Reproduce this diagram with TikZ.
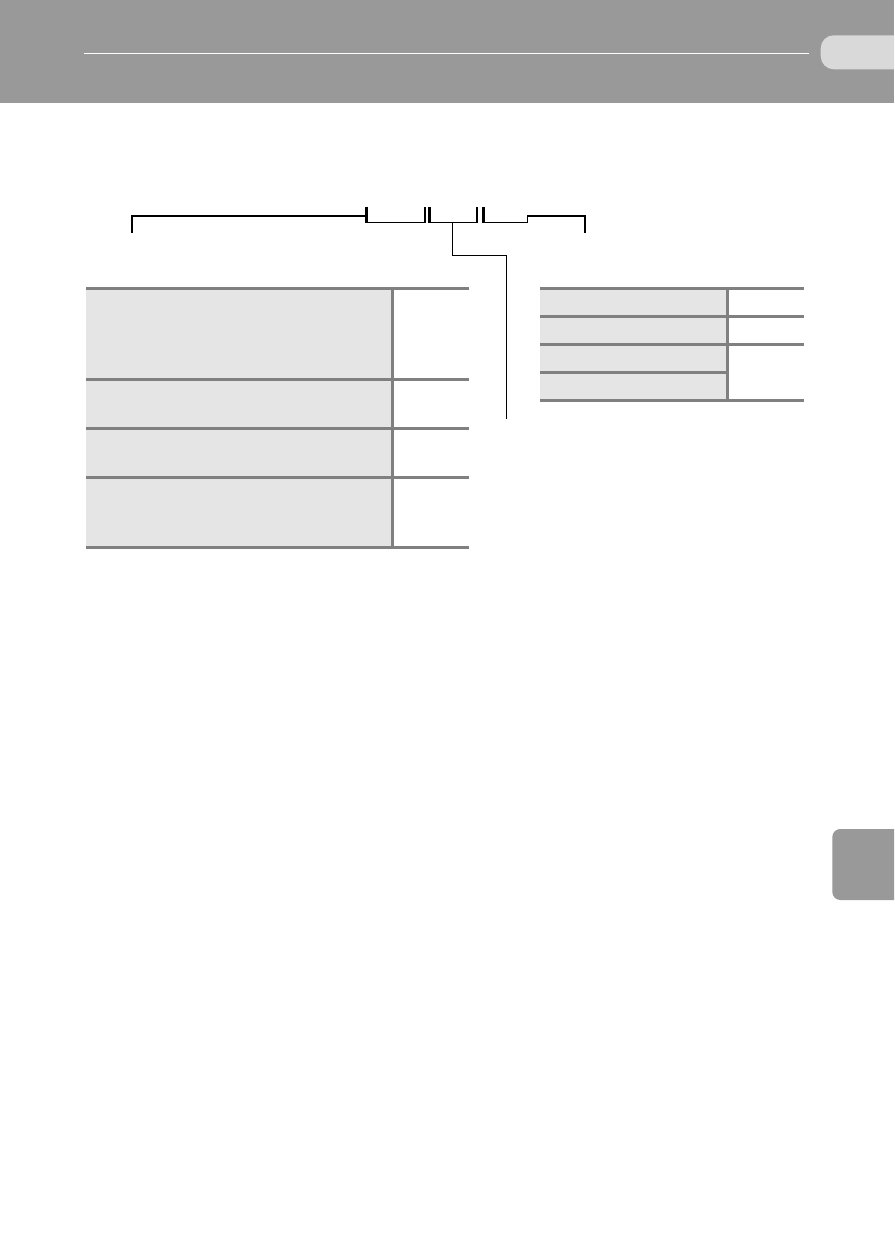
\documentclass[tikz,border=0pt]{standalone}
\usetikzlibrary{calc}
\definecolor{hdrgray}{HTML}{999999}
\definecolor{tabgray}{HTML}{D9D9D9}
\definecolor{rulegray}{HTML}{808080}
\definecolor{cellgray}{HTML}{E5E5E5}
\tikzset{
  thinrule/.style={line width=1.3pt, black},
  tickrule/.style={line width=2.6pt, black},
  tablerule/.style={line width=3pt, rulegray},
  tablebottom/.style={line width=3.5pt, rulegray},
  cellfill/.style={fill=cellgray, draw=none},
}
\begin{document}
\begin{tikzpicture}[x=1pt,y=-1pt]
\clip (0,0) rectangle (894,1260);
\fill[white] (0,0) rectangle (894,1260);
% header
\fill[hdrgray] (0,0) rectangle (894,103.4);
\draw[white, line width=1pt] (84,53.3) -- (809,53.3);
\fill[tabgray, rounded corners=13pt] (920,35.3) -- (820.7,35.3) -- (820.7,69.3) -- (920,69.3) -- cycle;
% side tab
\fill[hdrgray, rounded corners=8pt] (920,829) -- (832.3,829) -- (832.3,900) -- (920,900) -- cycle;

% bracket coordinates
\coordinate (bl) at (132,233.3);
\coordinate (bltop) at (132,216);
\coordinate (t1) at (366.5,216);
\coordinate (br) at (585,233.3);
\coordinate (brtop) at (585,216);
\coordinate (t5) at (527.7,216);
% main bracket
\draw[thinrule] (bltop) -- (t1);
\draw[thinrule] (t5) -- (brtop);
\draw[tickrule] ($(bltop)+(0,-0.65)$) -- (bl);
\draw[tickrule] ($(brtop)+(0,-0.65)$) -- (br);
% segment 1
\draw[tickrule] (366.5,206.7) -- (366.5,222.8);
\draw[thinrule] (366.5,222.3) -- (425,222.3);
\draw[tickrule] (425,222.8) -- (425,206.7);
% segment 2
\draw[tickrule] (429.2,206.7) -- (429.2,222.8);
\draw[thinrule] (429.2,222.3) -- (476.8,222.3);
\draw[tickrule] (476.8,222.8) -- (476.8,206.7);
% segment 3
\draw[tickrule] (483.3,206.7) -- (483.3,222.8);
\draw[thinrule] (483.3,222.3) -- (527.7,222.3);
\draw[thinrule] (527.7,222.9) -- (527.7,215.4);
% leader
\coordinate (ls) at (452.5,222.3);
\coordinate (lc) at (452.5,255.3);
\coordinate (ld) at (506.7,255.3);
\coordinate (le) at (506.7,419);
\draw[thinrule, line width=1.2pt] (ls) -- (lc) -- (ld) -- (le);

% left table
\fill[cellgray] (86,288.3) rectangle (392.3,547.7);
\draw[tablerule] (86,288.3) -- (469,288.3);
\draw[tablerule] (86,379.3) -- (469,379.3);
\draw[tablerule] (86,428.3) -- (469,428.3);
\draw[tablerule] (86,477.3) -- (469,477.3);
\draw[tablerule] (392.3,288.3) -- (392.3,547.7);
\draw[tablebottom] (86,547.7) -- (469,547.7);

% right table
\fill[cellgray] (540,288.3) rectangle (727.3,400.3);
\draw[tablerule] (540,288.3) -- (804,288.3);
\draw[tablerule] (540,316.3) -- (804,316.3);
\draw[tablerule] (540,344.3) -- (804,344.3);
\draw[tablerule] (540,372.3) -- (727.3,372.3);
\draw[tablerule] (727.3,288.3) -- (727.3,400.3);
\draw[tablerule] (540,400.3) -- (804,400.3);
\end{tikzpicture}
\end{document}
